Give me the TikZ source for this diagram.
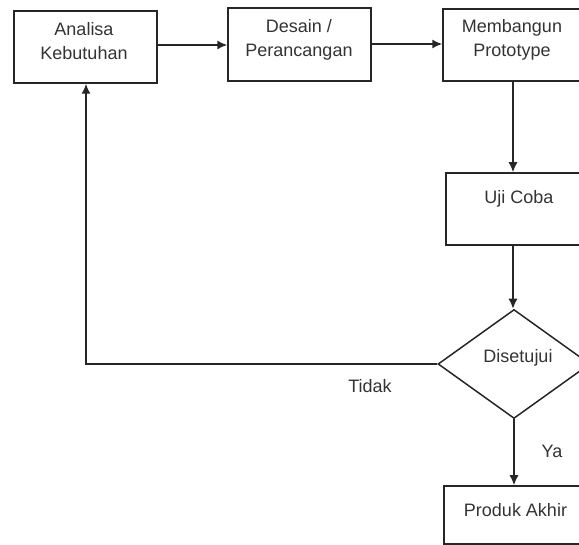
\documentclass[tikz,border=0pt]{standalone}
\usepackage{fontspec}
\setmainfont{Liberation Sans}
\usetikzlibrary{arrows.meta,shapes.geometric}
\begin{document}
\begin{tikzpicture}[x=1pt,y=-1pt,
  box/.style={draw=black!85,line width=1.5pt,minimum width=#1,inner sep=0pt},
  box/.default=143pt,
  lbl/.style={anchor=base,inner sep=0pt,text=black!80,font=\fontsize{18}{22}\selectfont},
  arr/.style={draw=black!85,line width=1.5pt,-{Latex[length=10pt,width=9pt]}},
  ln/.style={draw=black!85,line width=1.5pt}]
\useasboundingbox (0,0) rectangle (579,545);
\clip (0,0) rectangle (579,545);
% boxes
\node[box,minimum height=72pt] (b1) at (85.5,47) {};
\node[box,minimum height=73pt] (b2) at (299.5,44.5) {};
\node[box=138pt,minimum height=72pt] (b3) at (512,45) {};
\node[box=146pt,minimum height=72pt] (b4) at (519,209) {};
\node[draw=black!85,line width=1.5pt,diamond,aspect=1.39,minimum width=152pt,minimum height=109pt,inner sep=0pt] (d) at (514,364) {};
\node[box=146pt,minimum height=58pt] (b5) at (517,515) {};
% texts
\node[lbl] (t1a) at (84,36) {Analisa};
\node[lbl] (t1b) at (84,60) {Kebutuhan};
\node[lbl] (t2a) at (299,33) {Desain /};
\node[lbl] (t2b) at (299,57) {Perancangan};
\node[lbl] (t3a) at (512,33) {Membangun};
\node[lbl] (t3b) at (512,57) {Prototype};
\node[lbl] (t4) at (519,204) {Uji Coba};
\node[lbl] (td) at (518,363) {Disetujui};
\node[lbl] (t5) at (515.5,517) {Produk Akhir};
\node[lbl] (ya) at (552,458) {Ya};
\node[lbl] (tidak) at (370,393) {Tidak};
% connectors
\draw[arr] (b1.east |- 0,45) -- (b2.west |- 0,45);
\draw[arr] (b2.east |- 0,44) -- (b3.west |- 0,44);
\draw[arr] (b3.south -| 513,0) -- (b4.north -| 513,0);
\draw[arr] (b4.south -| 513,0) -- (d.north -| 513,0);
\draw[arr] (d.south) -- (b5.north -| d.south);
\coordinate (corner) at (86,364);
\draw[arr] (d.west) -- (corner) -- (b1.south -| corner);
\end{tikzpicture}
\end{document}
